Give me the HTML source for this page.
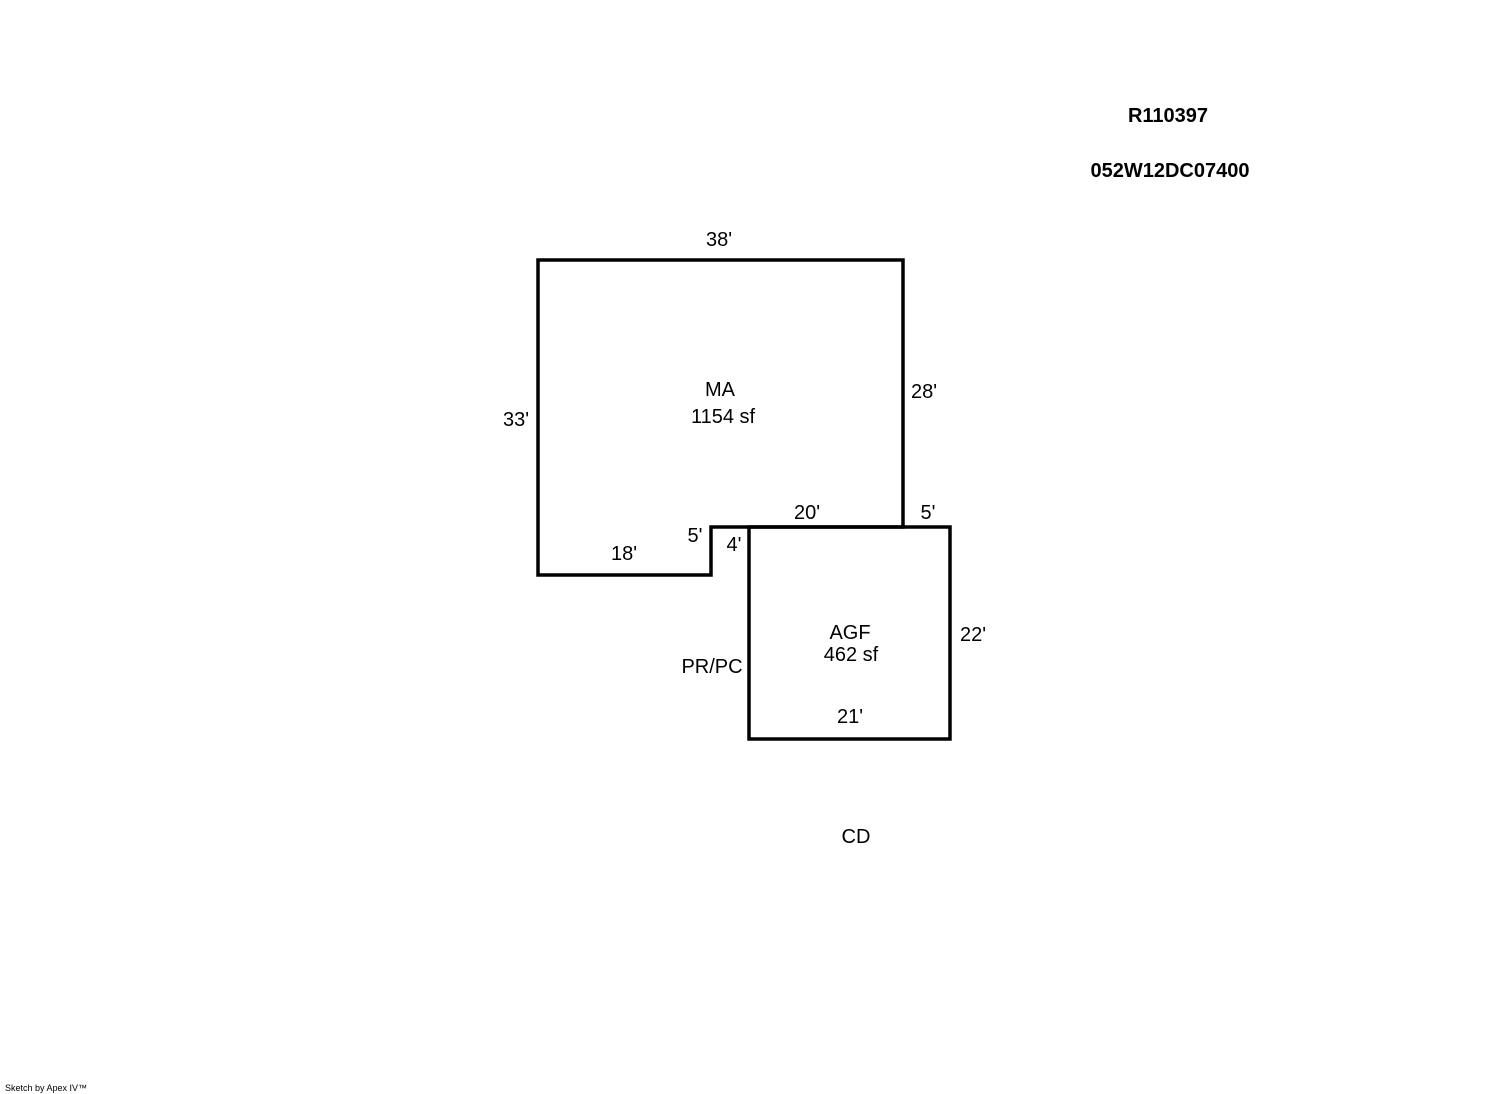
<!DOCTYPE html>
<html><head><meta charset="utf-8"><style>
html,body{margin:0;padding:0;background:#fff;}
svg{display:block;}
text{font-family:"Liberation Sans",Arial,sans-serif;font-size:20px;fill:#000;}
.b{font-weight:bold;}
</style></head><body>
<svg width="1492" height="1094" viewBox="0 0 1492 1094" xmlns="http://www.w3.org/2000/svg">
<g fill="none" stroke="#000" stroke-width="3.5" stroke-linejoin="miter" stroke-linecap="square">
<path d="M538 260 L903 260 L903 527 L711 527 L711 575 L538 575 Z"/>
<path d="M749 527 L950 527 L950 739 L749 739 Z"/>
</g>
<text class="b" x="1168" y="122" text-anchor="middle">R110397</text>
<text class="b" x="1170" y="177" text-anchor="middle">052W12DC07400</text>
<text x="719" y="246" text-anchor="middle">38'</text>
<text x="720" y="396" text-anchor="middle">MA</text>
<text x="723" y="423" text-anchor="middle">1154 sf</text>
<text x="924" y="398" text-anchor="middle">28'</text>
<text x="516" y="426" text-anchor="middle">33'</text>
<text x="807" y="519" text-anchor="middle">20'</text>
<text x="928" y="519" text-anchor="middle">5'</text>
<text x="695" y="542" text-anchor="middle">5'</text>
<text x="734" y="551" text-anchor="middle">4'</text>
<text x="624" y="560" text-anchor="middle">18'</text>
<text x="850" y="639" text-anchor="middle">AGF</text>
<text x="851" y="661" text-anchor="middle">462 sf</text>
<text x="973" y="641" text-anchor="middle">22'</text>
<text x="712" y="673" text-anchor="middle">PR/PC</text>
<text x="850" y="723" text-anchor="middle">21'</text>
<text x="856" y="843" text-anchor="middle">CD</text>
<text x="5" y="1091" style="font-size:9px">Sketch by Apex IV™</text>
</svg>
</body></html>
